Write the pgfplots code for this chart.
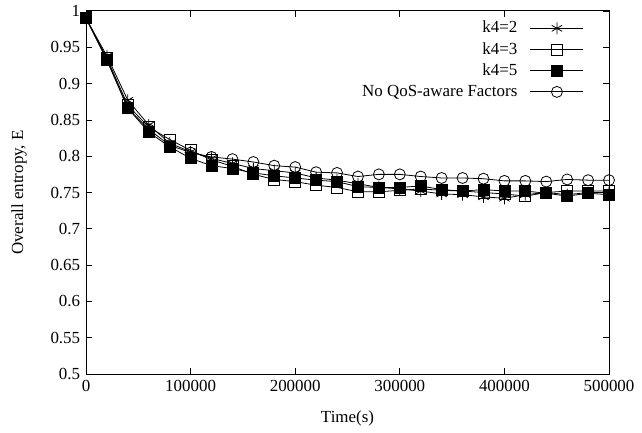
\documentclass[border=0pt]{standalone}
\usepackage{pgfplots}
\pgfplotsset{compat=1.18}
\usepackage{fontspec}
\setmainfont{Liberation Serif}
\begin{document}
\fontsize{17}{20}\selectfont
\begin{tikzpicture}
\begin{axis}[
  scale only axis,
  width=523bp, height=363bp,
  xmin=0, xmax=500000, ymin=0.5, ymax=1,
  xtick={0,100000,...,500000},
  ytick={0.5,0.55,...,1.01},
  tick align=inside,
  major tick length=6bp,
  scaled x ticks=false,
  xticklabel style={/pgf/number format/fixed,/pgf/number format/1000 sep={}},
  yticklabel style={/pgf/number format/fixed,/pgf/number format/precision=2},
  /pgf/number format/assume math mode=true,
  tick label style={font=\fontsize{17}{20}\selectfont},
  label style={font=\fontsize{17}{20}\selectfont},
  xlabel={Time(s)},
  ylabel={Overall entropy, E},
  xlabel style={at={(axis description cs:0.5,-0.121)}, anchor=center},
  ylabel style={at={(axis description cs:-0.128,0.5)}, anchor=center},
  axis line style={line width=1bp},
  every tick/.style={black, line width=0.8bp},
  legend style={draw=none, fill=none, at={(1,1)}, anchor=north east, xshift=-22bp, yshift=-6bp,
    font=\fontsize{17}{20}\selectfont, row sep=3bp, cells={anchor=east}},
  legend plot pos=right,
  legend image code/.code={\path[draw=none,fill=none] (0bp,-1bp) rectangle (64bp,1bp);\draw[mark repeat=2,mark phase=2] plot coordinates {(11bp,0bp)(37.5bp,0bp)(64bp,0bp)};},
  every axis plot/.append style={black, line width=0.8bp, mark options={solid, line width=0.8bp}},
]
\addplot[mark=asterisk, mark size=6bp] coordinates {
(0,0.990)(20000,0.938)(40000,0.877)(60000,0.843)(80000,0.818)(100000,0.806)
(120000,0.797)(140000,0.790)(160000,0.783)(180000,0.780)(200000,0.777)
(220000,0.770)(240000,0.767)(260000,0.762)(280000,0.757)(300000,0.755)
(320000,0.752)(340000,0.748)(360000,0.747)(380000,0.744)(400000,0.742)
(420000,0.747)(440000,0.750)(460000,0.747)(480000,0.750)(500000,0.750)};
\addlegendentry{k4=2}
\addplot[mark=square, mark size=5.5bp] coordinates {
(0,0.990)(20000,0.935)(40000,0.870)(60000,0.840)(80000,0.823)(100000,0.808)
(120000,0.795)(140000,0.786)(160000,0.775)(180000,0.768)(200000,0.765)
(220000,0.760)(240000,0.757)(260000,0.751)(280000,0.751)(300000,0.753)
(320000,0.755)(340000,0.753)(360000,0.752)(380000,0.750)(400000,0.748)
(420000,0.745)(440000,0.750)(460000,0.752)(480000,0.752)(500000,0.752)};
\addlegendentry{k4=3}
\addplot[mark=square*, mark size=5.5bp] coordinates {
(0,0.990)(20000,0.932)(40000,0.866)(60000,0.833)(80000,0.813)(100000,0.797)
(120000,0.787)(140000,0.783)(160000,0.777)(180000,0.773)(200000,0.770)
(220000,0.767)(240000,0.765)(260000,0.758)(280000,0.757)(300000,0.757)
(320000,0.759)(340000,0.754)(360000,0.752)(380000,0.754)(400000,0.752)
(420000,0.752)(440000,0.749)(460000,0.745)(480000,0.749)(500000,0.747)};
\addlegendentry{k4=5}
\addplot[mark=o, mark size=5.5bp] coordinates {
(0,0.990)(20000,0.933)(40000,0.866)(60000,0.837)(80000,0.815)(100000,0.805)
(120000,0.799)(140000,0.796)(160000,0.792)(180000,0.787)(200000,0.785)
(220000,0.778)(240000,0.777)(260000,0.772)(280000,0.775)(300000,0.775)
(320000,0.772)(340000,0.770)(360000,0.770)(380000,0.769)(400000,0.766)
(420000,0.766)(440000,0.765)(460000,0.768)(480000,0.767)(500000,0.767)};
\addlegendentry{No QoS-aware Factors}
\end{axis}
\pgfresetboundingbox
\path (current axis.south west) ++(-86bp,-58bp) rectangle (current axis.north east);
\path (current axis.north east) ++(33bp,11bp);
\end{tikzpicture}
\end{document}
